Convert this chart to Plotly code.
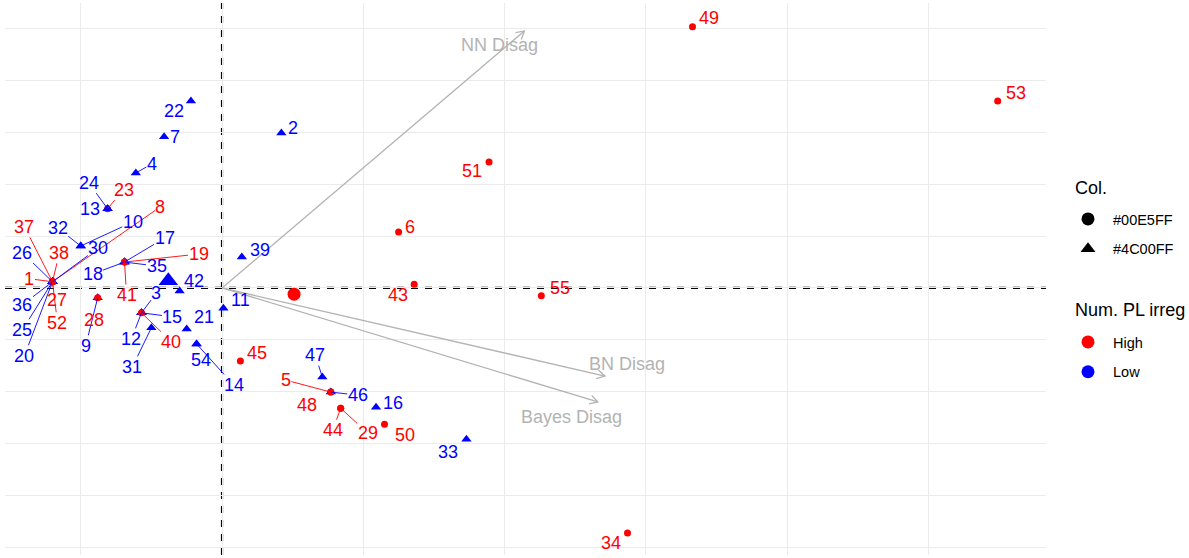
import math
import plotly.graph_objects as go

# ---- individuals (PCA scores) ----
ids = list(range(1, 56))
dim1 = [-1.20, 0.42, -0.57, -0.61, 0.77, 1.25, -0.41, -1.20, -0.88, -1.00,
        0.01, -0.57, -0.81, -0.18, -0.57, 1.09, -0.69, -0.69, -0.69, -1.20,
        -0.25, -0.22, -0.81, -0.81, -1.20, -1.20, -1.20, -0.88, 0.84, -1.20,
        -0.50, -1.00, 1.73, 2.87, -0.69, -1.20, -1.20, -1.20, 0.14, -0.57,
        -0.69, -0.30, 1.36, 0.84, 0.13, 0.77, 0.71, 0.77, 3.33, 1.15,
        1.89, -1.20, 5.49, -0.18, 2.26]
dim2 = [0.12, 2.99, -0.48, 2.22, -2.01, 1.08, 2.92, 0.12, -0.19, 0.81,
        -0.39, -0.48, 1.53, -1.08, -0.48, -2.30, 0.50, 0.50, 0.50, 0.12,
        -0.79, 3.61, 1.53, 1.53, 0.12, 0.12, 0.12, -0.19, -2.32, 0.12,
        -0.77, 0.81, -2.92, -4.73, 0.50, 0.12, 0.12, 0.12, 0.60, -0.48,
        0.50, -0.06, 0.07, -2.32, -1.41, -2.01, -1.72, -2.01, 5.04, -2.63,
        2.43, 0.12, 3.61, -1.08, -0.15]
pl_irreg = ["High", "Low", "Low", "Low", "High", "High", "Low", "High", "Low", "Low",
            "Low", "Low", "Low", "Low", "Low", "Low", "Low", "Low", "High", "Low",
            "Low", "Low", "High", "Low", "Low", "Low", "High", "High", "High", "Low",
            "Low", "Low", "Low", "High", "Low", "Low", "High", "High", "Low", "High",
            "High", "Low", "High", "High", "High", "Low", "Low", "High", "High", "High",
            "High", "High", "High", "Low", "High"]
col_class = ["#00E5FF" if g == "High" else "#4C00FF" for g in pl_irreg]

# group means
mean_levels = ["High", "Low"]
mean_dim1 = [0.51, -0.38]
mean_dim2 = [-0.12, 0.14]

# ---- variables (loadings) ----
var_names = ["NN Disag", "BN Disag", "Bayes Disag"]
var_dim1 = [2.14, 2.71, 2.66]
var_dim2 = [4.96, -1.70, -2.20]

# ---- styling ----
level_color = {"High": "#FF0000", "Low": "#0000FF"}
class_symbol = {"#00E5FF": "circle", "#4C00FF": "triangle-up"}
class_size = {"#00E5FF": 7, "#4C00FF": 9}
font_family = "Liberation Sans, Arial, sans-serif"
arrow_grey = "#B3B3B3"

# repelled label placement (pixel offsets from each point)
label_offset = {
    1: (-23, -3), 2: (12, -5), 3: (15, -20), 4: (16, -9), 5: (-45, -12),
    6: (11, -5), 7: (11, 0), 8: (108, -75), 9: (-12, 48), 10: (52, -24),
    11: (17, -8), 12: (-10, 26), 13: (-18, 0), 14: (37, 41), 15: (31, 4),
    16: (17, -4), 17: (40, -24), 18: (-32, 12), 19: (74, -8), 20: (-28, 74),
    21: (17, -12), 22: (-17, 10), 23: (16, -19), 24: (-19, -26), 25: (-30, 48),
    26: (-30, -29), 27: (5, 18), 28: (-4, 22), 29: (27, 25), 30: (46, -34),
    31: (-19, 39), 32: (-23, -18), 33: (-18, 13), 34: (-17, 10), 35: (32, 4),
    36: (-30, 23), 37: (-28, -55), 38: (7, -29), 39: (18, -7), 40: (30, 29),
    41: (2, 33), 42: (14, -10), 43: (-16, 11), 44: (-8, 22), 45: (17, -8),
    46: (27, 3), 47: (-7, -22), 48: (-24, 13), 49: (16, -9), 50: (20, 11),
    51: (-17, 9), 52: (5, 41), 53: (18, -8), 54: (4, 16), 55: (19, -8),
}
with_segment = {1, 3, 4, 5, 8, 9, 10, 12, 14, 15, 17, 18, 19, 20, 23, 24, 25,
                26, 29, 30, 31, 32, 35, 36, 37, 38, 40, 41, 44, 46, 47, 52}
var_label_offset = {"NN Disag": (-25, 14), "BN Disag": (22, -12), "Bayes Disag": (-26, 15)}

W, H = 1189, 558
margin = dict(l=5, r=143, t=3, b=3)
x_range = [-1.536, 5.832]
y_range = [-5.154, 5.50]
plot_w = W - margin["l"] - margin["r"]
plot_h = H - margin["t"] - margin["b"]
sx = plot_w / (x_range[1] - x_range[0])
sy = plot_h / (y_range[1] - y_range[0])

fig = go.Figure()

# individuals, drawn in row order so later rows sit on top
fig.add_trace(go.Scatter(
    x=dim1, y=dim2, mode="markers", showlegend=False, hoverinfo="skip",
    marker=dict(color=[level_color[g] for g in pl_irreg],
                symbol=[class_symbol[c] for c in col_class],
                size=[class_size[c] for c in col_class], opacity=1, line=dict(width=0)),
))

# group mean points
fig.add_trace(go.Scatter(
    x=mean_dim1, y=mean_dim2, mode="markers", showlegend=False, hoverinfo="skip",
    marker=dict(color=[level_color[g] for g in mean_levels],
                symbol=["circle", "triangle-up"], size=[13, 17], opacity=1, line=dict(width=0)),
))

# legend entries
for name, sym in [("#00E5FF", "circle"), ("#4C00FF", "triangle-up")]:
    fig.add_trace(go.Scatter(x=[None], y=[None], mode="markers", name=name,
                             legend="legend", legendgroup=name,
                             marker=dict(color="black", symbol=sym, size=13)))
for lvl in ["High", "Low"]:
    fig.add_trace(go.Scatter(x=[None], y=[None], mode="markers", name=lvl,
                             legend="legend2", legendgroup=lvl,
                             marker=dict(color=level_color[lvl], symbol="circle", size=13)))

shapes = []
# reference lines through the origin
dash_line = dict(color="black", width=2.2, dash="7px,7px")
shapes.append(dict(type="line", xref="x", yref="paper", x0=0, x1=0, y0=0, y1=1,
                   line=dash_line, layer="between"))
shapes.append(dict(type="line", xref="paper", yref="y", x0=0, x1=1, y0=0, y1=0,
                   line=dash_line, layer="between"))

annotations = []
# variable arrows
for name, vx, vy in zip(var_names, var_dim1, var_dim2):
    shapes.append(dict(type="line", xref="x", yref="y", x0=0, y0=0, x1=vx, y1=vy,
                       line=dict(color=arrow_grey, width=1.3), layer="above"))
    dx, dy = vx * sx, vy * sy
    n = math.hypot(dx, dy)
    ux, uy = dx / n, dy / n
    arm = 9
    pts = []
    for ang in (math.radians(30), -math.radians(30)):
        rx = -(ux * math.cos(ang) - uy * math.sin(ang)) * arm
        ry = -(ux * math.sin(ang) + uy * math.cos(ang)) * arm
        pts.append((rx, ry))
    path = f"M{pts[0][0]:.2f},{pts[0][1]:.2f} L0,0 L{pts[1][0]:.2f},{pts[1][1]:.2f}"
    shapes.append(dict(type="path", xref="x", yref="y", xsizemode="pixel", ysizemode="pixel",
                       xanchor=vx, yanchor=vy, path=path,
                       line=dict(color=arrow_grey, width=1.3), layer="above"))
    ox, oy = var_label_offset[name]
    annotations.append(dict(x=vx, y=vy, xref="x", yref="y", text=name, showarrow=False,
                            xshift=ox, yshift=-oy,
                            font=dict(family=font_family, size=18, color=arrow_grey)))

# point labels
for i, x, y, g in zip(ids, dim1, dim2, pl_irreg):
    ox, oy = label_offset[i]
    c = level_color[g]
    if i in with_segment:
        annotations.append(dict(x=x, y=y, xref="x", yref="y", text=str(i),
                                showarrow=True, arrowhead=0, arrowwidth=0.9, arrowcolor=c,
                                ax=ox, ay=oy, standoff=0, startstandoff=0, borderpad=0,
                                font=dict(family=font_family, size=18, color=c)))
    else:
        annotations.append(dict(x=x, y=y, xref="x", yref="y", text=str(i), showarrow=False,
                                xshift=ox, yshift=-oy,
                                font=dict(family=font_family, size=18, color=c)))


def px_to_paper(px, py):
    return (px - margin["l"]) / plot_w, (H - margin["b"] - py) / plot_h


# legend titles
for title, py in [("Col.", 188), ("Num. PL irreg", 310)]:
    tx, ty = px_to_paper(1073, py)
    annotations.append(dict(x=tx, y=ty, xref="paper", yref="paper", text=title,
                            showarrow=False, xanchor="left", yanchor="middle",
                            font=dict(family=font_family, size=18, color="black")))

axis_common = dict(showgrid=True, gridcolor="#EBEBEB", gridwidth=1.2, zeroline=False,
                   showticklabels=False, ticks="", showline=False, dtick=1, tick0=0)

legend_common = dict(font=dict(size=14.5, color="black", family=font_family),
                     xref="container", yref="container", xanchor="left", yanchor="top",
                     itemwidth=40, tracegroupgap=8, bgcolor="rgba(0,0,0,0)")

fig.update_layout(
    width=W, height=H, margin=margin,
    paper_bgcolor="white", plot_bgcolor="white",
    xaxis=dict(range=x_range, **axis_common),
    yaxis=dict(range=y_range, **axis_common),
    shapes=shapes, annotations=annotations,
    hovermode=False,
    font=dict(family=font_family),
    legend=dict(x=1063 / W, y=1 - 203 / H, **legend_common),
    legend2=dict(x=1063 / W, y=1 - 326 / H, **legend_common),
)

fig.write_html("out.html")
